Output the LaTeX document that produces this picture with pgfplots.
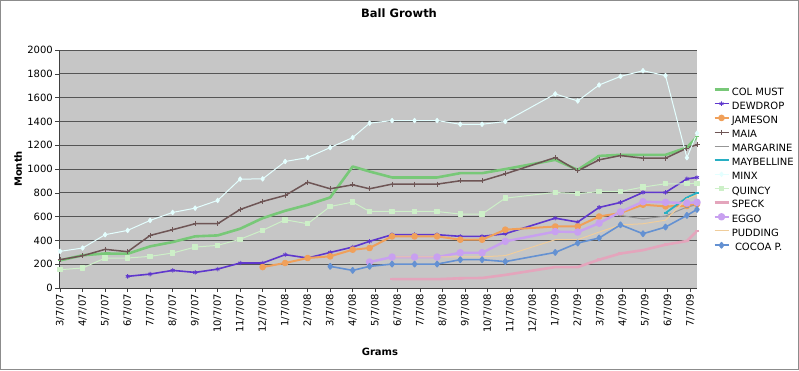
\documentclass[border=0pt]{standalone}
\usepackage{fontspec}
\setmainfont{DejaVu Sans}
\usepackage{pgfplots}
\pgfplotsset{compat=1.18}
\definecolor{plotgray}{RGB}{198,198,198}
\definecolor{gridgray}{RGB}{85,85,85}
\definecolor{framegray}{RGB}{140,140,140}
\definecolor{colmust}{RGB}{120,200,120}
\definecolor{dewdrop}{RGB}{95,55,205}
\definecolor{jameson}{RGB}{240,160,90}
\definecolor{maia}{RGB}{110,85,85}
\definecolor{margarine}{RGB}{150,150,150}
\definecolor{maybelline}{RGB}{40,175,195}
\definecolor{minx}{RGB}{228,255,255}
\definecolor{quincy}{RGB}{205,240,200}
\definecolor{speck}{RGB}{228,165,188}
\definecolor{eggo}{RGB}{200,160,240}
\definecolor{pudding}{RGB}{240,205,155}
\definecolor{cocoa}{RGB}{100,145,210}
\begin{document}
\begin{tikzpicture}[x=1pt,y=1pt]
\useasboundingbox (0,0) rectangle (799,370);
\fill[white] (0,0) rectangle (799,370);
\draw[framegray, line width=1.2pt] (0.6,0.6) rectangle (798.4,369.4);
\begin{axis}[
  at={(59pt,82pt)}, anchor=south west,
  scale only axis, width=638pt, height=238pt,
  xmin=-0.05, xmax=28.3, ymin=0, ymax=2000,
  axis background/.style={fill=plotgray},
  axis x line*=bottom, axis y line*=left,
  axis line style={draw=black!75, line width=0.8pt},
  ytick={0,200,...,2000},
  ymajorgrids, grid style={draw=gridgray, line width=0.9pt},
  xtick={0,...,28},
  xticklabels={3/7/07,4/7/07,5/7/07,6/7/07,7/7/07,8/7/07,9/7/07,10/7/07,11/7/07,12/7/07,1/7/08,2/7/08,3/7/08,4/7/08,5/7/08,6/7/08,7/7/08,8/7/08,9/7/08,10/7/08,11/7/08,12/7/08,1/7/09,2/7/09,3/7/09,4/7/09,5/7/09,6/7/09,7/7/09},
  tick align=outside, major tick length=4pt,
  tick style={draw=black!75, line width=0.6pt},
  /pgf/number format/assume math mode=true,
  /pgf/number format/1000 sep={},
  ticklabel style={font=\fontsize{10}{12}\selectfont},
  xticklabel style={rotate=90, anchor=east, inner sep=2pt},
  yticklabel style={inner sep=2pt},
  title={Ball Growth},
  title style={font=\fontsize{11.5}{13}\selectfont\bfseries, at={(axis description cs:0.533,1.13)}, anchor=center},
  xlabel={Grams},
  xlabel style={font=\fontsize{10}{12}\selectfont\bfseries, at={(axis description cs:0.503,-0.269)}, anchor=center},
  ylabel={Month},
  ylabel style={font=\fontsize{10}{12}\selectfont\bfseries, at={(axis description cs:-0.064,0.5)}, anchor=center, rotate=0},
  legend style={at={(axis description cs:1.0251,0.843)}, anchor=north west, draw=none, fill=none,
    font=\fontsize{10}{12}\selectfont, inner sep=0pt, row sep=4pt, column sep=2pt,
    nodes={inner sep=0pt, text height=7.5pt, text depth=2.4pt}},
  legend cell align=left,
  legend image code/.code={\draw[mark repeat=2,mark phase=2,#1] plot coordinates {(0pt,3pt) (7pt,3pt) (14pt,3pt)};},
  every axis plot/.append style={line join=round},
]
% COL MUST
\addplot[colmust, line width=2.6pt, mark=-, mark size=2pt, mark options={line width=1pt}] coordinates {
(0,232) (1,275) (2,290) (3,288) (4,350) (5,386) (6,434) (7,442) (8,498) (9,587) (10,649) (11,699) (12,761) (13,1021) (13.75,979) (14.75,929) (15.75,929) (16.75,929) (17.78,965) (18.75,965) (19.78,999) (22,1077) (23,993) (23.95,1110) (24.9,1119) (25.9,1119) (26.9,1119) (27.85,1180) (28.3,1270)};
\addlegendentry{COL MUST}
% DEWDROP
\addplot[dewdrop, line width=1.6pt, mark=asterisk, mark size=2.2pt, mark options={line width=0.8pt}] coordinates {
(3,98) (4,117) (5,148) (6,131) (7,159) (8,210) (9,210) (10,280) (11,252) (12,299) (13,344) (13.75,392) (14.75,448) (15.75,448) (16.75,448) (17.78,434) (18.75,434) (19.78,456) (22,587) (23,554) (23.95,677) (24.9,719) (25.9,803) (26.9,803) (27.85,917) (28.3,929)};
\addlegendentry{DEWDROP}
% JAMESON
\addplot[jameson, line width=2pt, mark=*, mark size=2.3pt] coordinates {
(9,176) (10,210) (11,252) (12,266) (13,322) (13.75,336) (14.75,434) (15.75,434) (16.75,434) (17.78,406) (18.75,406) (19.78,490) (22,517) (23,517) (23.95,601) (24.9,630) (25.9,700) (26.9,686) (27.85,690) (28.3,705)};
\addlegendentry{JAMESON}
% MAIA
\addplot[maia, line width=1.5pt, mark=+, mark size=2.5pt, mark options={line width=0.8pt}] coordinates {
(0,238) (1,271) (2,325) (3,305) (4,442) (5,490) (6,540) (7,540) (8,660) (9,727) (10,778) (11,889) (12,834) (13,867) (13.75,834) (14.75,873) (15.75,873) (16.75,873) (17.78,901) (18.75,901) (19.78,959) (22,1096) (23,985) (23.95,1077) (24.9,1113) (25.9,1091) (26.9,1091) (27.85,1175) (28.3,1205)};
\addlegendentry{MAIA}
% MARGARINE
\addplot[margarine, line width=1pt, mark=-, mark size=2pt] coordinates {
(24.9,610) (25.9,580) (26.9,605) (27.85,680) (28.3,700)};
\addlegendentry{MARGARINE}
% MAYBELLINE
\addplot[maybelline, line width=1.8pt, mark=-, mark size=2pt] coordinates {
(26.9,630) (27.85,760) (28.3,800)};
\addlegendentry{MAYBELLINE}
% MINX
\addplot[minx, line width=1pt, mark=diamond*, mark size=2.2pt, mark options={fill=minx, draw=minx}] coordinates {
(0,308) (1,336) (2,448) (3,484) (4,568) (5,635) (6,671) (7,736) (8,915) (9,917) (10,1063) (11,1096) (12,1180) (13,1264) (13.75,1385) (14.75,1407) (15.75,1407) (16.75,1407) (17.78,1376) (18.75,1376) (19.78,1399) (22,1631) (23,1572) (23.95,1706) (24.9,1778) (25.9,1826) (26.9,1785) (27.85,1095) (28.3,1300)};
\addlegendentry{MINX}
% QUINCY
\addplot[quincy, line width=1pt, mark=square*, mark size=2.2pt, mark options={fill=quincy, draw=quincy}] coordinates {
(0,154) (1,168) (2,252) (3,252) (4,266) (5,294) (6,344) (7,358) (8,410) (9,485) (10,573) (11,540) (12,685) (13,722) (13.75,643) (14.75,643) (15.75,643) (16.75,643) (17.78,621) (18.75,621) (19.78,755) (22,803) (23,792) (23.95,811) (24.9,811) (25.9,848) (26.9,876) (27.85,876) (28.3,880)};
\addlegendentry{QUINCY}
% SPECK
\addplot[speck, line width=2.6pt, mark=-, mark size=2pt] coordinates {
(14.75,74) (15.75,74) (16.75,74) (17.78,82) (18.75,84) (19.78,110) (22,176) (23,176) (23.95,238) (24.9,290) (25.9,318) (26.9,364) (27.85,395) (28.3,478)};
\addlegendentry{SPECK}
% EGGO
\addplot[eggo, line width=2.4pt, mark=*, mark size=2.5pt] coordinates {
(13.75,218) (14.75,260) (15.75,260) (16.75,260) (17.78,296) (18.75,296) (19.78,392) (22,474) (23,470) (23.95,545) (24.9,640) (25.9,725) (26.9,720) (27.85,714) (28.3,720)};
\addlegendentry{EGGO}
% PUDDING
\addplot[pudding, line width=1pt] coordinates {
(14.75,262) (15.75,262) (16.75,262) (17.78,262) (18.75,262) (19.78,272) (22,406) (23,406) (23.95,470) (24.9,530) (25.9,540) (26.9,570) (27.85,750) (28.3,780)};
\addlegendentry{PUDDING}
% COCOA P.
\addplot[cocoa, line width=1.6pt, mark=diamond*, mark size=2.6pt] coordinates {
(12,182) (13,148) (13.75,182) (14.75,201) (15.75,201) (16.75,201) (17.78,238) (18.75,238) (19.78,222) (22,299) (23,378) (23.95,420) (24.9,531) (25.9,456) (26.9,512) (27.85,610) (28.3,660)};
\addlegendentry{~COCOA P.}
\end{axis}
\end{tikzpicture}
\end{document}
